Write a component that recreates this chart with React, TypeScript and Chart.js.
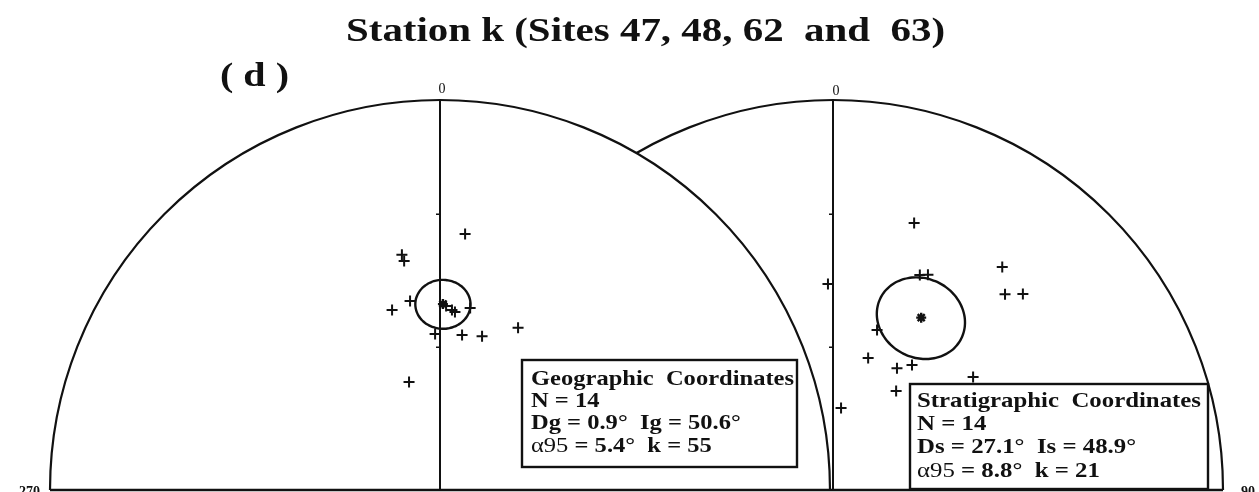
import React, { useEffect, useRef } from "react";
import { Chart, registerables } from "chart.js";

Chart.register(...registerables);

// Site-mean directions, geographic coordinates (declination / inclination, degrees)
const geoDec = [5.6, 350.8, 351.1, 351.0, 345.1, 9.4, 4.8, 1.9, 3.8, 358.2, 8.1, 15.3, 25.7, 344.0];
const geoInc = [34.4, 38.8, 40.3, 49.4, 50.5, 50.9, 52.2, 51.0, 51.8, 57.1, 57.0, 56.4, 51.9, 66.5];

// Same sites after tilt correction (stratigraphic coordinates)
const stratDec = [16.9, 22.0, 23.8, 37.2, 41.3, 44.1, 358.6, 15.4, 14.9, 27.7, 32.3, 32.5, 51.1, 5.6];
const stratInc = [29.2, 40.3, 39.5, 29.0, 33.6, 30.7, 46.1, 55.0, 61.3, 61.1, 58.9, 65.4, 51.9, 72.8];

// Fisher statistics: [geographic, stratigraphic]
const meanDec = [0.9, 27.1];
const meanInc = [50.6, 48.9];
const alpha95 = [5.4, 8.8];
const kappa = [55, 21];
const siteCount = [14, 14];

// Net annotations
const northLabel = "0";
const westLabel = "270";
const eastLabel = "90";
const incTicks = [30, 60];

const TITLE = "Station k (Sites 47, 48, 62  and  63)";
const PANEL = "( d )";

// Centre of the second net, in net radii from the first one
const RIGHT_NET = 1.0077;

const DEG = Math.PI / 180;
const SERIF = '"Liberation Serif", "Times New Roman", serif';

// Lambert equal-area (Schmidt) projection, lower hemisphere, unit primitive circle
function project(dec: number, inc: number, cx: number) {
  const r = Math.SQRT2 * Math.sin(((90 - inc) / 2) * DEG);
  return { x: cx + r * Math.sin(dec * DEG), y: r * Math.cos(dec * DEG) };
}

// Small circle of radius a95 around the mean direction, projected
function cone(dec: number, inc: number, a95: number, cx: number) {
  const m = [Math.cos(inc * DEG) * Math.cos(dec * DEG), Math.cos(inc * DEG) * Math.sin(dec * DEG), Math.sin(inc * DEG)];
  // basis perpendicular to m
  const u = [-Math.sin(inc * DEG) * Math.cos(dec * DEG), -Math.sin(inc * DEG) * Math.sin(dec * DEG), Math.cos(inc * DEG)];
  const v = [-Math.sin(dec * DEG), Math.cos(dec * DEG), 0];
  const pts: { x: number; y: number }[] = [];
  const n = 72;
  const ca = Math.cos(a95 * DEG);
  const sa = Math.sin(a95 * DEG);
  for (let i = 0; i <= n; i++) {
    const t = (i / n) * 2 * Math.PI;
    const p = [0, 1, 2].map((k) => ca * m[k] + sa * (Math.cos(t) * u[k] + Math.sin(t) * v[k]));
    const d = Math.atan2(p[1], p[0]) / DEG;
    const ii = Math.asin(Math.max(-1, Math.min(1, p[2]))) / DEG;
    pts.push(project(d, ii, cx));
  }
  return pts;
}

type Part = { text: string; bold: boolean };

function drawParts(ctx: CanvasRenderingContext2D, parts: Part[], x: number, y: number, size: number, sx: number) {
  ctx.save();
  ctx.translate(x, y);
  ctx.scale(sx, 1);
  let cx = 0;
  for (const p of parts) {
    ctx.font = `${p.bold ? "bold " : ""}${size}px ${SERIF}`;
    ctx.fillText(p.text, cx, 0);
    cx += ctx.measureText(p.text).width;
  }
  ctx.restore();
}

function statsBox(
  ctx: CanvasRenderingContext2D,
  box: { l: number; t: number; r: number; b: number },
  textX: number,
  textRight: number,
  baselines: number[],
  header: string,
  dLabel: string,
  iLabel: string,
  idx: number
) {
  ctx.save();
  ctx.fillStyle = "#fff";
  ctx.fillRect(box.l, box.t, box.r - box.l, box.b - box.t);
  ctx.strokeStyle = "#111";
  ctx.lineWidth = 2.4;
  ctx.strokeRect(box.l, box.t, box.r - box.l, box.b - box.t);
  ctx.fillStyle = "#111";
  ctx.textBaseline = "alphabetic";
  ctx.textAlign = "left";
  const size = 21;
  ctx.font = `bold ${size}px ${SERIF}`;
  const sx = (textRight - textX) / ctx.measureText(header).width;
  drawParts(ctx, [{ text: header, bold: true }], textX, baselines[0], size, sx);
  drawParts(ctx, [{ text: `N = ${siteCount[idx]}`, bold: true }], textX, baselines[1], size, sx);
  drawParts(
    ctx,
    [{ text: `${dLabel} = ${meanDec[idx].toFixed(1)}°  ${iLabel} = ${meanInc[idx].toFixed(1)}°`, bold: true }],
    textX,
    baselines[2],
    size,
    sx
  );
  drawParts(
    ctx,
    [
      { text: "α95", bold: false },
      { text: ` = ${alpha95[idx].toFixed(1)}°  k = ${kappa[idx]}`, bold: true },
    ],
    textX,
    baselines[3],
    size,
    sx
  );
  ctx.restore();
}

const netPlugin = {
  id: "schmidtNets",
  beforeDatasetsDraw(chart: Chart) {
    const { ctx } = chart;
    const xs = chart.scales.x;
    const ys = chart.scales.y;
    const cxL = xs.getPixelForValue(0);
    const cxR = xs.getPixelForValue(RIGHT_NET);
    const cy = ys.getPixelForValue(0);
    const R = xs.getPixelForValue(1) - cxL;
    ctx.save();
    ctx.strokeStyle = "#111";
    ctx.lineWidth = 2.2;

    // stratigraphic net outline (partly hidden behind the geographic net)
    ctx.beginPath();
    ctx.arc(cxR, cy, R, Math.PI, 2 * Math.PI);
    ctx.stroke();

    // geographic net, opaque
    ctx.beginPath();
    ctx.arc(cxL, cy, R, Math.PI, 2 * Math.PI);
    ctx.closePath();
    ctx.fillStyle = "#fff";
    ctx.fill();
    ctx.beginPath();
    ctx.arc(cxL, cy, R, Math.PI, 2 * Math.PI);
    ctx.stroke();

    // N-S diameters with inclination ticks
    for (const c of [cxL, cxR]) {
      ctx.lineWidth = 2;
      ctx.beginPath();
      ctx.moveTo(c, cy);
      ctx.lineTo(c, cy - R);
      ctx.stroke();
      ctx.lineWidth = 1.5;
      for (const inc of incTicks) {
        const yy = ys.getPixelForValue(Math.SQRT2 * Math.sin(((90 - inc) / 2) * DEG));
        ctx.beginPath();
        ctx.moveTo(c - 4, yy);
        ctx.lineTo(c, yy);
        ctx.stroke();
      }
    }

    // E-W base line
    ctx.lineWidth = 2.4;
    ctx.beginPath();
    ctx.moveTo(cxL - R, cy);
    ctx.lineTo(cxR + R, cy);
    ctx.stroke();

    // azimuth labels
    ctx.fillStyle = "#111";
    ctx.textAlign = "center";
    ctx.textBaseline = "alphabetic";
    ctx.font = `14px ${SERIF}`;
    ctx.fillText(northLabel, cxL + 2, cy - R - 7);
    ctx.fillText(northLabel, cxR + 3, cy - R - 5);
    ctx.font = `bold 14px ${SERIF}`;
    ctx.textAlign = "right";
    ctx.fillText(westLabel, cxL - R - 10, cy + 6);
    ctx.textAlign = "left";
    ctx.fillText(eastLabel, cxR + R + 18, cy + 6);
    ctx.restore();
  },
  afterDatasetsDraw(chart: Chart) {
    const { ctx } = chart;
    statsBox(ctx, { l: 522, t: 360, r: 797, b: 467 }, 531, 794, [385, 407, 429, 452], "Geographic  Coordinates", "Dg", "Ig", 0);
    statsBox(ctx, { l: 910, t: 384, r: 1208, b: 489 }, 917, 1201, [407, 430, 453, 477], "Stratigraphic  Coordinates", "Ds", "Is", 1);

    ctx.save();
    ctx.fillStyle = "#111";
    ctx.textBaseline = "alphabetic";
    ctx.font = `bold 33px ${SERIF}`;
    const tw = ctx.measureText(TITLE).width;
    drawParts(ctx, [{ text: TITLE, bold: true }], 346, 41, 33, 599 / tw);
    ctx.font = `bold 33px ${SERIF}`;
    const pw = ctx.measureText(PANEL).width;
    drawParts(ctx, [{ text: PANEL, bold: true }], 220, 86, 33, 69 / pw);
    ctx.restore();
  },
};

export default function App() {
  const canvasRef = useRef<HTMLCanvasElement | null>(null);

  useEffect(() => {
    document.body.style.margin = "0";
    document.body.style.overflow = "hidden";
    const canvas = canvasRef.current;
    if (!canvas) return;

    const geoPts = geoDec.map((d, i) => project(d, geoInc[i], 0));
    const stratPts = stratDec.map((d, i) => project(d, stratInc[i], RIGHT_NET));
    const means = [project(meanDec[0], meanInc[0], 0), project(meanDec[1], meanInc[1], RIGHT_NET)];
    const geoCone = cone(meanDec[0], meanInc[0], alpha95[0], 0);
    const stratCone = cone(meanDec[1], meanInc[1], alpha95[1], RIGHT_NET);

    const cross = {
      type: "scatter" as const,
      pointStyle: "cross" as const,
      pointRadius: 5.5,
      pointBorderWidth: 2,
      borderColor: "#111",
      backgroundColor: "#111",
      showLine: false,
    };
    // a small tension keeps Chart.js off its fast path, which merges
    // vertically stacked vertices at the ring's left and right extremes
    const ring = {
      type: "line" as const,
      borderColor: "#111",
      borderWidth: 2.4,
      borderJoinStyle: "round" as const,
      borderCapStyle: "round" as const,
      pointRadius: 0,
      fill: false,
      tension: 0.2,
    };

    const chart = new Chart(canvas, {
      type: "scatter",
      data: {
        datasets: [
          { ...ring, label: "α95 geographic", data: geoCone },
          { ...ring, label: "α95 stratigraphic", data: stratCone },
          { ...cross, label: "Geographic", data: geoPts },
          { ...cross, label: "Stratigraphic", data: stratPts },
          {
            type: "scatter",
            label: "Mean",
            data: means,
            pointStyle: "star",
            pointRadius: 5,
            pointBorderWidth: 2.4,
            borderColor: "#111",
            backgroundColor: "#111",
          },
        ],
      },
      options: {
        animation: false,
        responsive: true,
        maintainAspectRatio: false,
        layout: { padding: 0, autoPadding: false },
        plugins: { legend: { display: false }, tooltip: { enabled: false }, title: { display: false } },
        scales: {
          x: { type: "linear", display: false, min: -440 / 390, max: 819 / 390 },
          y: { type: "linear", display: false, min: -2 / 390, max: 490 / 390 },
        },
      },
      plugins: [netPlugin],
    });
    return () => chart.destroy();
  }, []);

  return (
    <div style={{ position: "relative", width: 1259, height: 492, background: "#fff" }}>
      <canvas ref={canvasRef} />
    </div>
  );
}
